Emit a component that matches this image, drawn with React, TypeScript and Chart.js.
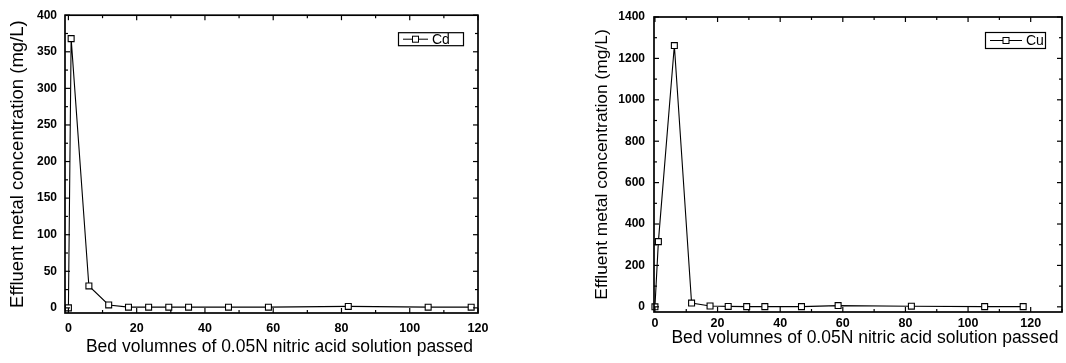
import React, { useEffect, useRef } from "react";
import { Chart, registerables } from "chart.js";

Chart.register(...registerables);

const cdBedVolumes = [0, 0.8, 6.0, 11.8, 17.6, 23.5, 29.4, 35.2, 46.9, 58.6, 82.0, 105.4, 118.0];
const cdConcentration = [0, 368, 30, 4, 1, 1, 1, 1, 1, 1, 2, 1, 1];
const cuBedVolumes = [0, 1.1, 6.2, 11.7, 17.6, 23.4, 29.3, 35.1, 46.8, 58.5, 81.9, 105.3, 117.6];
const cuConcentration = [0, 315, 1262, 18, 4, 2, 1, 1, 1, 6, 3, 1, 1];
const xTickValues = [0, 20, 40, 60, 80, 100, 120];
const cdYTickValues = [0, 50, 100, 150, 200, 250, 300, 350, 400];
const cuYTickValues = [0, 200, 400, 600, 800, 1000, 1200, 1400];
const xTitle = "Bed volumnes of 0.05N nitric acid solution passed";
const yTitle = "Effluent metal concentration (mg/L)";
const FAMILY = "'Liberation Sans', Arial, Helvetica, sans-serif";

const frameTicks = {
  id: "frameTicks",
  afterDatasetsDraw(chart: any, _args: any, opts: any) {
    const { ctx, chartArea: a, scales } = chart;
    const xs = scales.x;
    const ys = scales.y;
    ctx.save();
    ctx.strokeStyle = "#000";
    ctx.lineWidth = 1.7;
    ctx.strokeRect(a.left, a.top, a.right - a.left, a.bottom - a.top);
    ctx.lineWidth = 1.2;
    const seg = (x1: number, y1: number, x2: number, y2: number) => {
      ctx.beginPath();
      ctx.moveTo(x1, y1);
      ctx.lineTo(x2, y2);
      ctx.stroke();
    };
    const major = 5;
    const minor = 3;
    const xStep = opts.xStep;
    const yStep = opts.yStep;
    for (let i = 0; (i * xStep) / 2 <= xs.max + 1e-9; i++) {
      const v = (i * xStep) / 2;
      const px = xs.getPixelForValue(v);
      if (px < a.left - 0.5 || px > a.right + 0.5) continue;
      const len = i % 2 === 0 ? major : minor;
      seg(px, a.bottom, px, a.bottom - len);
      seg(px, a.top, px, a.top + len);
    }
    for (let i = 0; (i * yStep) / 2 <= ys.max + 1e-9; i++) {
      const v = (i * yStep) / 2;
      const py = ys.getPixelForValue(v);
      if (py < a.top - 0.5 || py > a.bottom + 0.5) continue;
      const len = i % 2 === 0 ? major : minor;
      seg(a.left, py, a.left + len, py);
      seg(a.right, py, a.right - len, py);
    }
    ctx.restore();
  },
};

const xAxisTitle = {
  id: "xAxisTitle",
  afterDraw(chart: any, _args: any, opts: any) {
    const { ctx, chartArea: a } = chart;
    ctx.save();
    ctx.fillStyle = "#000";
    ctx.font = `${opts.fontSize}px ${FAMILY}`;
    ctx.textAlign = "center";
    ctx.textBaseline = "middle";
    ctx.fillText(opts.text, (a.left + a.right) / 2 + opts.dx, opts.y);
    ctx.restore();
  },
};

const boxLegend = {
  id: "boxLegend",
  afterDraw(chart: any, _args: any, opts: any) {
    const { ctx, chartArea: a } = chart;
    const ds = chart.data.datasets[0];
    const w = opts.width;
    const h = opts.height;
    const x0 = a.right - opts.right - w;
    const y0 = a.top + opts.top;
    ctx.save();
    ctx.strokeStyle = "#000";
    ctx.lineWidth = 1.2;
    ctx.strokeRect(x0 + 0.5, y0 + 0.5, w, h);
    const cy = y0 + h / 2 + 0.5;
    const lx1 = x0 + 5;
    const lx2 = lx1 + opts.lineLen;
    ctx.lineWidth = 1;
    ctx.beginPath();
    ctx.moveTo(lx1, cy);
    ctx.lineTo(lx2, cy);
    ctx.stroke();
    const mx = (lx1 + lx2) / 2;
    ctx.fillStyle = "#fff";
    ctx.fillRect(mx - 3, cy - 3, 6, 6);
    ctx.strokeRect(mx - 3, cy - 3, 6, 6);
    ctx.fillStyle = "#000";
    ctx.font = `${opts.fontSize}px ${FAMILY}`;
    ctx.textBaseline = "middle";
    ctx.textAlign = "left";
    ctx.fillText(ds.label, lx2 + 4, cy + 0.5);
    ctx.restore();
  },
};

type PanelProps = {
  left: number;
  width: number;
  label: string;
  xs: number[];
  ys: number[];
  yTicks: number[];
  xMin: number;
  xMax: number;
  yMin: number;
  yMax: number;
  yStep: number;
  pad: { left: number; right: number; top: number };
  yAxisWidth: number;
  xAxisHeight: number;
  yTitleSize: number;
  yTitlePad: number;
  xTitleY: number;
  xTitleDx: number;
  xTickPad: number;
  yTickPad: number;
  legend: any;
};

function Panel(p: PanelProps) {
  const ref = useRef<HTMLCanvasElement | null>(null);
  useEffect(() => {
    if (!ref.current) return;
    const chart = new Chart(ref.current, {
      type: "scatter",
      data: {
        datasets: [
          {
            label: p.label,
            data: p.xs.map((x, i) => ({ x, y: p.ys[i] })),
            showLine: true,
            borderColor: "#000",
            borderWidth: 1.1,
            pointStyle: "rect",
            pointRadius: 4.2,
            pointBackgroundColor: "#fff",
            pointBorderColor: "#000",
            pointBorderWidth: 1.1,
            tension: 0,
            clip: false,
          } as any,
        ],
      },
      options: {
        animation: false,
        responsive: false,
        maintainAspectRatio: false,
        layout: {
          autoPadding: false,
          padding: { left: p.pad.left, right: p.pad.right, top: p.pad.top, bottom: 0 },
        } as any,
        plugins: {
          legend: { display: false },
          tooltip: { enabled: false },
          frameTicks: { xStep: 20, yStep: p.yStep },
          boxLegend: p.legend,
          xAxisTitle: { text: xTitle, fontSize: 17.5, y: p.xTitleY, dx: p.xTitleDx },
        } as any,
        scales: {
          x: {
            type: "linear",
            min: p.xMin,
            max: p.xMax,
            grid: { display: false, drawTicks: false },
            border: { display: false },
            afterBuildTicks: (s: any) => {
              s.ticks = xTickValues.map((v) => ({ value: v }));
            },
            ticks: {
              padding: p.xTickPad,
              font: { family: FAMILY, size: 12.5, weight: "bold" },
              color: "#000",
              maxRotation: 0,
              autoSkip: false,
              callback: (v: any) => String(v),
            },
            title: { display: false },
            afterFit: (s: any) => {
              s.height = p.xAxisHeight;
            },
          },
          y: {
            type: "linear",
            min: p.yMin,
            max: p.yMax,
            grid: { display: false, drawTicks: false },
            border: { display: false },
            afterBuildTicks: (s: any) => {
              s.ticks = p.yTicks.map((v) => ({ value: v }));
            },
            ticks: {
              padding: p.yTickPad,
              font: { family: FAMILY, size: 12, weight: "bold" },
              color: "#000",
              autoSkip: false,
              callback: (v: any) => String(v),
            },
            title: {
              display: true,
              text: yTitle,
              color: "#000",
              font: { family: FAMILY, size: p.yTitleSize },
              padding: { top: p.yTitlePad, bottom: 0 },
            },
            afterFit: (s: any) => {
              s.width = p.yAxisWidth;
            },
          },
        },
      } as any,
      plugins: [frameTicks, boxLegend, xAxisTitle],
    });
    return () => chart.destroy();
  }, []);
  return (
    <canvas
      ref={ref}
      width={p.width}
      height={363}
      style={{ position: "absolute", left: p.left, top: 0, width: p.width, height: 363, display: "block" }}
    />
  );
}

export default function App() {
  return (
    <div style={{ position: "absolute", left: 0, top: 0, width: 1066, height: 363, background: "#fff" }}>
      <Panel
        left={0}
        width={500}
        label="Cd"
        xs={cdBedVolumes}
        ys={cdConcentration}
        yTicks={cdYTickValues}
        xMin={-1}
        xMax={120}
        yMin={-7}
        yMax={400}
        yStep={50}
        pad={{ left: 0, right: 22, top: 15 }}
        yAxisWidth={65}
        xAxisHeight={50}
        yTitleSize={18.5}
        yTitlePad={7}
        xTitleY={347}
        xTitleDx={8}
        xTickPad={8}
        yTickPad={8}
        legend={{ width: 65, height: 13, right: 15, top: 17, lineLen: 25, fontSize: 14 }}
      />
      <Panel
        left={500}
        width={566}
        label="Cu"
        xs={cuBedVolumes}
        ys={cuConcentration}
        yTicks={cuYTickValues}
        xMin={-0.3}
        xMax={130}
        yMin={-25}
        yMax={1400}
        yStep={200}
        pad={{ left: 90, right: 4, top: 17 }}
        yAxisWidth={64}
        xAxisHeight={51}
        yTitleSize={17.4}
        yTitlePad={2}
        xTitleY={338}
        xTitleDx={7}
        xTickPad={4}
        yTickPad={9}
        legend={{ width: 60, height: 16, right: 17, top: 15, lineLen: 32, fontSize: 14 }}
      />
    </div>
  );
}
